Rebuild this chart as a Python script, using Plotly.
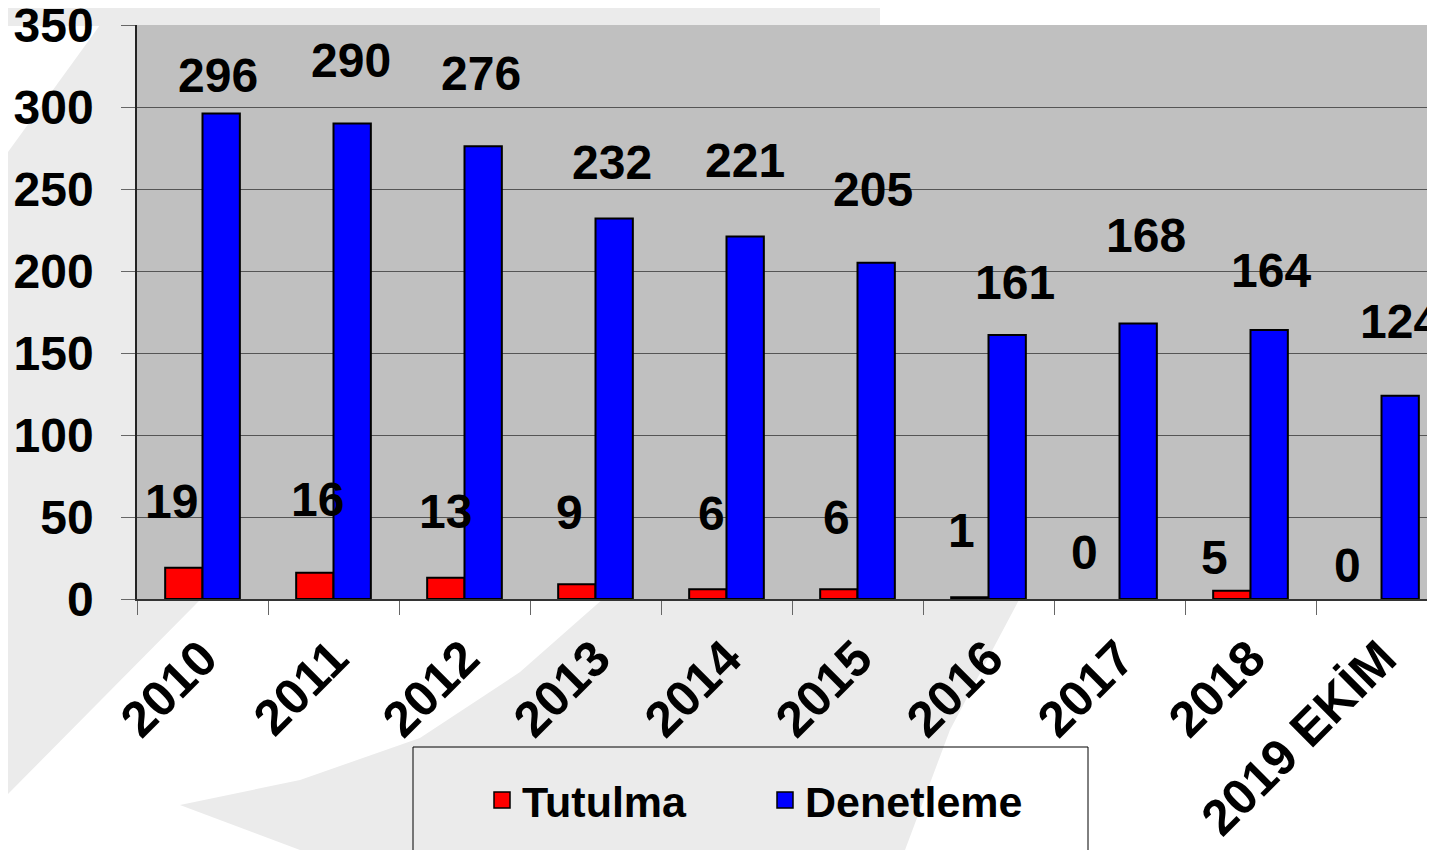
import plotly.graph_objects as go

# ---------------- data ----------------
categories = ["2010", "2011", "2012", "2013", "2014", "2015", "2016", "2017", "2018", "2019 EKİM"]
tutulma = [19, 16, 13, 9, 6, 6, 1, 0, 5, 0]
denetleme = [296, 290, 276, 232, 221, 205, 161, 168, 164, 124]
series_names = ["Tutulma", "Denetleme"]
y_tick_values = [0, 50, 100, 150, 200, 250, 300, 350]

# ---------------- label nudges (pixels, relative to bar top centre) ----------------
tut_dx = [-12, 3, 0, -7, 4, -2, -8, -16, -17, -15]
tut_dy = [66, 73, 66, 72, 76, 72, 67, 47, 33, 34]
den_dx = [-3, -1, -2, -2, 0, -3, 8, 8, 2, 0]
den_dy = [38, 63, 73, 56, 76, 73, 52, 88, 60, 74]

# ---------------- style ----------------
FONT = "Liberation Sans, Arial, sans-serif"
RED = "#FF0000"
BLUE = "#0000FF"
PLOT_BG = "#C0C0C0"
WATER = "#EBEBEB"
OFF = 8                      # page body margin
W, H = 1435 - OFF, 850 - OFF  # figure size
PX0, PY0, PX1, PY1 = 137, 25, 1435, 599  # plot area in page pixels
L, T, R = PX0 - OFF, PY0 - OFF, 0
B = H - (PY1 - OFF)
PW, PH = PX1 - PX0, PY1 - PY0
BARGAP = 0.43
half = (1 - BARGAP) / 4.0  # centre offset of each bar in a group


def p(x, y):
    """page pixel -> paper coords"""
    return ((x - PX0) / PW, (PY1 - y) / PH)


def poly(pts):
    s = ""
    for k, (x, y) in enumerate(pts):
        px, py = p(x, y)
        s += ("M" if k == 0 else "L") + f"{px:.4f},{py:.4f} "
    return s + "Z"


fig = go.Figure()
fig.add_trace(go.Bar(name=series_names[0], x=categories, y=tutulma, showlegend=False,
                     marker=dict(color=RED, line=dict(color="black", width=[2 if v > 0 else 0 for v in tutulma]))))
fig.add_trace(go.Bar(name=series_names[1], x=categories, y=denetleme, showlegend=False,
                     marker=dict(color=BLUE, line=dict(color="black", width=2))))

# legend entries
for nm, col in zip(series_names, [RED, BLUE]):
    fig.add_trace(go.Scatter(x=[None], y=[None], mode="markers", name=nm,
                             marker=dict(symbol="square", size=16, color=col, line=dict(color="black", width=1.5))))

annotations = []
for i, cat in enumerate(categories):
    annotations.append(dict(x=i - half, y=tutulma[i], xref="x", yref="y", text=str(tutulma[i]),
                            showarrow=False, xshift=tut_dx[i], yshift=tut_dy[i], yanchor="middle",
                            font=dict(family=FONT, size=48, color="black", weight="bold")))
    annotations.append(dict(x=i + half, y=denetleme[i], xref="x", yref="y", text=str(denetleme[i]),
                            showarrow=False, xshift=den_dx[i], yshift=den_dy[i], yanchor="middle",
                            font=dict(family=FONT, size=48, color="black", weight="bold")))

shapes = [
    # watermark
    dict(type="path", xref="paper", yref="paper", layer="below", line=dict(width=0), fillcolor=WATER,
         path=poly([(0, 0), (880, 0), (880, 26), (0, 26)])),
    dict(type="path", xref="paper", yref="paper", layer="below", line=dict(width=0), fillcolor=WATER,
         path=poly([(100, 25), (140, 25), (140, 600), (200, 600), (0, 802), (0, 163)])),
    dict(type="path", xref="paper", yref="paper", layer="below", line=dict(width=0), fillcolor=WATER,
         path=poly([(180, 805), (300, 780), (420, 738), (520, 672), (604, 598), (1020, 598),
                    (950, 730), (905, 850), (300, 850)])),
    # plot area background
    dict(type="rect", xref="paper", yref="paper", layer="below", x0=0, x1=1, y0=0, y1=1,
         line=dict(width=0), fillcolor=PLOT_BG),
    # legend frame
    dict(type="rect", xref="paper", yref="paper", layer="above",
         x0=p(413, 0)[0], x1=p(1088, 0)[0], y0=p(0, 747)[1], y1=p(0, 870)[1],
         line=dict(color="black", width=1), fillcolor="rgba(0,0,0,0)"),
]

lx, ly = p(482, 800)

fig.update_layout(
    width=W, height=H, autosize=False,
    margin=dict(l=L, r=R, t=T, b=B, pad=0),
    paper_bgcolor="white", plot_bgcolor=PLOT_BG,
    barmode="group", bargap=BARGAP, bargroupgap=0,
    font=dict(family=FONT, color="black"),
    annotations=annotations, shapes=shapes,
    legend=dict(orientation="h", x=lx, y=ly, xanchor="left", yanchor="middle",
                bgcolor="rgba(0,0,0,0)", borderwidth=0, entrywidth=238,
                font=dict(family=FONT, size=43, color="black", weight="bold")),
    showlegend=True,
)

fig.update_xaxes(
    type="category", range=[-0.5, -0.5 + PW / 131.0], automargin=False,
    showgrid=False, showline=True, linecolor="#333333", linewidth=1.5,
    ticks="outside", tickson="boundaries", ticklen=14, tickcolor="#666666", tickwidth=1,
    ticklabelstandoff=8, ticklabeloverflow="allow",
    tickangle=-45, tickfont=dict(family=FONT, size=50, color="black", weight="bold"),
    fixedrange=True,
)
fig.update_yaxes(
    range=[0, 350], tickvals=y_tick_values, automargin=False,
    showgrid=True, gridcolor="#555555", gridwidth=1, zeroline=False,
    showline=True, linecolor="#222222", linewidth=1.5,
    ticks="outside", ticklen=14, tickcolor="#666666", tickwidth=1,
    ticklabelstandoff=18, ticklabeloverflow="allow",
    tickfont=dict(family=FONT, size=48, color="black", weight="bold"),
    fixedrange=True,
)

fig.write_html("out.html", config=dict(displayModeBar=False))
